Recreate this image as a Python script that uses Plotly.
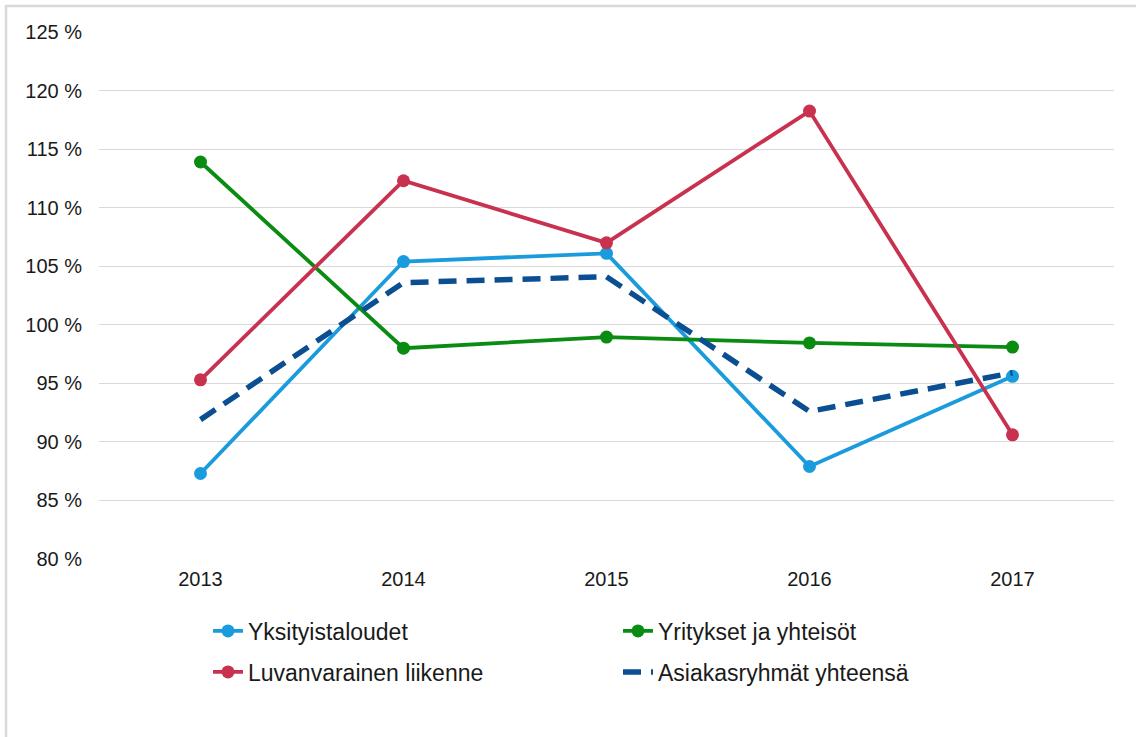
import plotly.graph_objects as go

years = ["2013", "2014", "2015", "2016", "2017"]
yksityistaloudet = [87.3, 105.4, 106.1, 87.9, 95.6]
yritykset = [113.9, 98.0, 98.95, 98.45, 98.1]
luvanvarainen = [95.3, 112.3, 107.0, 118.25, 90.6]
yhteensa = [91.9, 103.6, 104.1, 92.6, 95.9]

names = ["Yksityistaloudet", "Yritykset ja yhteisöt", "Luvanvarainen liikenne", "Asiakasryhmät yhteensä"]
colors = ["#1A9BDD", "#0A8B12", "#C8324F", "#0B4F92"]
legend_ids = ["legend", "legend", "legend2", "legend2"]

FONT = "Liberation Sans, Arial, sans-serif"

W, H = 1136, 737
L, R, T, B = 99, 22, 32, 178
PW, PH = W - L - R, H - T - B

fig = go.Figure()
series = [yksityistaloudet, yritykset, luvanvarainen, yhteensa]
for i, (name, vals, col, lg) in enumerate(zip(names, series, colors, legend_ids)):
    if i < 3:
        fig.add_trace(go.Scatter(
            x=years, y=vals, name=name, mode="lines+markers", legend=lg,
            line=dict(color=col, width=3.8),
            marker=dict(color=col, size=13),
        ))
    else:
        fig.add_trace(go.Scatter(
            x=years, y=vals, name=name, mode="lines", legend=lg,
            line=dict(color=col, width=5.5, dash="18px,10px"),
        ))


def legend_cfg(row_y_px):
    return dict(
        orientation="h",
        x=(208 - L) / PW, xanchor="left",
        y=1 - (row_y_px - T) / PH, yanchor="middle",
        entrywidth=365, entrywidthmode="pixels",
        font=dict(family=FONT, size=23, color="#1a1a1a"),
        bgcolor="rgba(0,0,0,0)", borderwidth=0,
    )


fig.update_layout(
    width=W, height=H,
    paper_bgcolor="white", plot_bgcolor="white",
    margin=dict(l=L, r=R, t=T, b=B, autoexpand=False),
    font=dict(family=FONT, size=20, color="#1a1a1a"),
    showlegend=True,
    legend=legend_cfg(631),
    legend2=legend_cfg(672),
    xaxis=dict(
        type="category", range=[-0.5, 4.5], showgrid=False, zeroline=False,
        showline=False, ticks="", tickfont=dict(size=20),
        ticklabelstandoff=6,
    ),
    yaxis=dict(
        range=[80, 125], dtick=5, tick0=80, ticksuffix=" %",
        showgrid=True, gridcolor="#D9D9D9", gridwidth=1.3, zeroline=False,
        showline=False, ticks="", tickfont=dict(size=20),
        ticklabelstandoff=16,
    ),
)

# outer chart border
fig.add_shape(type="rect", xref="paper", yref="paper",
              x0=(6 - L) / PW, x1=1.2, y0=-0.6, y1=1 + (T - 6) / PH,
              line=dict(color="#D9D9D9", width=2.5), layer="below")

fig.write_html("out.html", config={"displayModeBar": False},
               post_script="document.body.style.margin='0px';")
